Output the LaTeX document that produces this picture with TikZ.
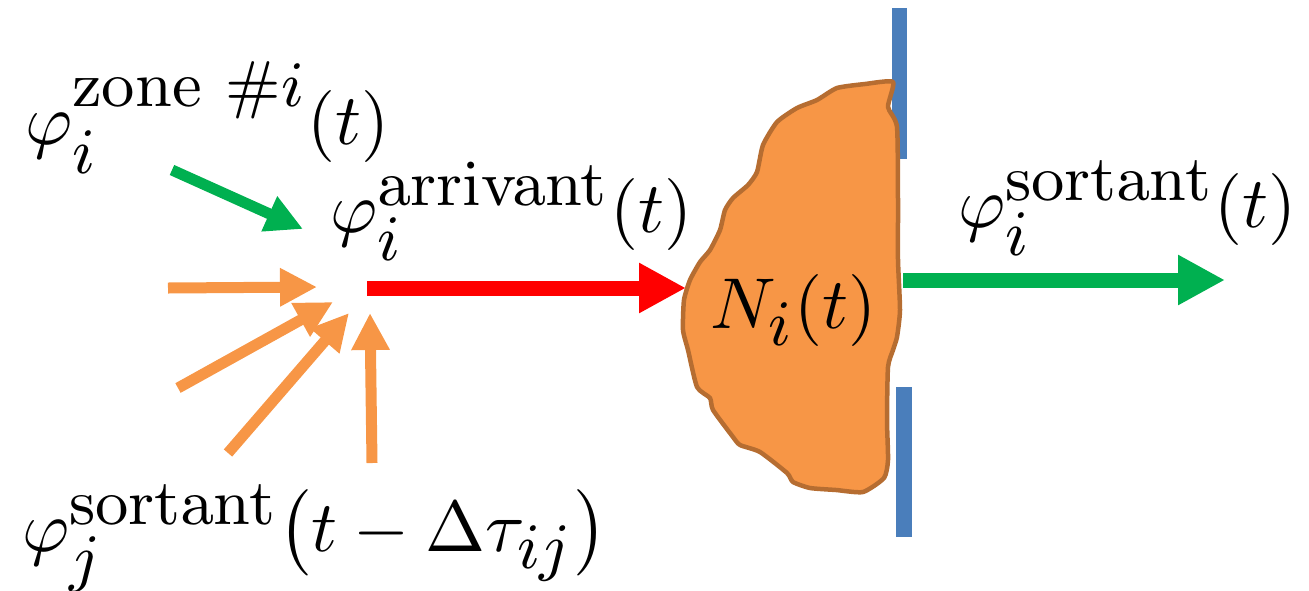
\documentclass[tikz,border=0pt]{standalone}
\usepackage{amsmath}
\usepackage{graphicx}
\usetikzlibrary{arrows.meta}
\DeclareMathSizes{10}{10}{9}{7}
\definecolor{cgreen}{HTML}{00B050}
\definecolor{corange}{HTML}{F79646}
\definecolor{cred}{HTML}{FF0000}
\definecolor{cblue}{HTML}{4A7EBB}
\definecolor{cborder}{HTML}{B66D31}
\newcommand{\biglbl}[1]{\scalebox{7.2}{$#1$}}
\tikzset{
  lbl/.style={anchor=base west, inner sep=0pt},
  smallarrow/.style={line width=11pt, -{Triangle[width=36pt,length=37pt]}},
  bigarrow/.style={line width=15pt, -{Triangle[width=47pt,length=47pt]}},
  bar/.style={fill=cblue, draw=none},
}
\begin{document}
\begin{tikzpicture}[x=1pt,y=-1pt]
\useasboundingbox (0,0) rectangle (1309,590);
% blue bars
\fill[bar] (892,8) rectangle (907,159);
\fill[bar] (896,387) rectangle (912,537);
% blob
\draw[fill=corange, draw=cborder, line width=4.5pt, line join=round]
  plot[smooth cycle, tension=0.35] coordinates {
  (893,82) (888,107) (897,127) (898,200) (898,260) (900,310) (897,337) (893,350)
  (888,367) (887,420) (888,460) (884,478) (863,492) (836,490) (810,488) (793,482)
  (787,473) (760,452) (740,445) (733,437) (713,410) (710,398) (697,387) (688,350)
  (683,330) (684,300) (690,280) (700,262) (710,250) (720,230) (725,210) (733,198)
  (748,185) (757,172) (763,145) (777,122) (797,108) (817,100) (837,88) (865,84)};
% labels
\node[lbl] (zone) at (25,144) {\biglbl{\varphi_i^{\mathrm{zone}\ \#i}(t)}};
\node[lbl] (arr) at (330,232) {\biglbl{\varphi_i^{\mathrm{arrivant}}(t)}};
\node[lbl] (sort) at (958,227) {\biglbl{\varphi_i^{\mathrm{sortant}}(t)}};
\node[lbl] (sortj) at (22,551) {\biglbl{\varphi_j^{\mathrm{sortant}}\bigl(t-\Delta\tau_{ij}\bigr)}};
\node[lbl] (N) at (710,328) {\biglbl{N_i(t)}};
% arrow coordinates
\coordinate (g1s) at (172,170); \coordinate (g1e) at (303,229);
\coordinate (o1s) at (168,288); \coordinate (o1e) at (317,287);
\coordinate (o2s) at (178,388); \coordinate (o2e) at (333,302);
\coordinate (o3s) at (228,453); \coordinate (o3e) at (349,313);
\coordinate (o4s) at (372,463); \coordinate (o4e) at (370,313);
\coordinate (rs) at (367,288); \coordinate (re) at (686,288);
\coordinate (g2s) at (903,280); \coordinate (g2e) at (1225,280);
% arrows
\draw[smallarrow, cgreen] (g1s) -- (g1e);
\draw[smallarrow, corange] (o1s) -- (o1e);
\draw[smallarrow, corange] (o2s) -- (o2e);
\draw[smallarrow, corange] (o3s) -- (o3e);
\draw[smallarrow, corange] (o4s) -- (o4e);
\draw[bigarrow, cred] (rs) -- (re);
\draw[bigarrow, cgreen] (g2s) -- (g2e);
\end{tikzpicture}
\end{document}
